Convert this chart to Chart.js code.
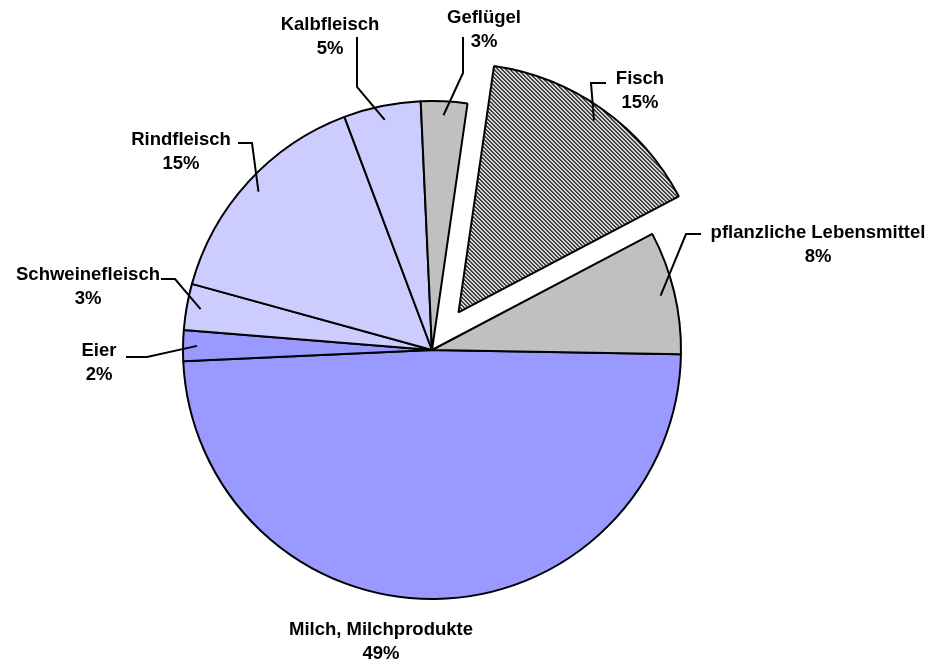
<!DOCTYPE html>
<html>
<head>
<meta charset="utf-8">
<script src="https://cdn.jsdelivr.net/npm/chart.js@4/dist/chart.umd.min.js"></script>
<style>
  html, body { margin: 0; padding: 0; background: #fff; }
  #wrap { width: 931px; height: 662px; }
</style>
</head>
<body>
<div id="wrap"><canvas id="pie" width="931" height="662"></canvas></div>
<script>
// Anteile in Prozent, im Uhrzeigersinn ab 3 Uhr
var categories = ['Milch, Milchprodukte', 'Eier', 'Schweinefleisch', 'Rindfleisch',
                  'Kalbfleisch', 'Geflügel', 'Fisch', 'pflanzliche Lebensmittel'];
var shares = [49, 2, 3, 15, 5, 3, 15, 8];
var explodeIndex = 6;

// Beschriftung: Mittelpunkt der ersten Zeile, Knick und Ende der Führungslinie
var labelLayout = [
  { x: 381, y: 630, leader: null },
  { x: 99,  y: 351, leader: [[147, 357], [126, 357]] },
  { x: 88,  y: 275, leader: [[175, 279], [161, 279]] },
  { x: 181, y: 140, leader: [[252, 143], [238, 143]] },
  { x: 330, y: 25,  leader: [[357, 87], [357, 37]] },
  { x: 484, y: 18,  leader: [[463, 73], [463, 37]] },
  { x: 640, y: 79,  leader: [[591, 83], [606, 83]] },
  { x: 818, y: 233, leader: [[686, 234], [701, 234]] }
];

function hatch() {
  var c = document.createElement('canvas');
  c.width = 4; c.height = 4;
  var g = c.getContext('2d');
  g.fillStyle = '#d4d4d4';
  g.fillRect(0, 0, 4, 4);
  g.fillStyle = '#444';
  for (var i = 0; i < 4; i++) {
    g.fillRect(i, i, 1, 1);
    g.fillRect((i + 1) % 4, i, 1, 1);
  }
  return g.createPattern(c, 'repeat');
}

var ctx = document.getElementById('pie').getContext('2d');
var colors = ['#9999ff', '#9999ff', '#ccccff', '#ccccff', '#ccccff', '#c0c0c0', hatch(), '#c0c0c0'];

var explodePlugin = {
  id: 'explode',
  afterDatasetUpdate: function(chart, args) {
    var el = args.meta.data[explodeIndex];
    if (!el) return;
    var mid = (el.startAngle + el.endAngle) / 2;
    el.x += Math.cos(mid) * 46;
    el.y += Math.sin(mid) * 46;
  }
};

var labelPlugin = {
  id: 'pieLabels',
  afterDraw: function(chart) {
    var c = chart.ctx;
    var arcs = chart.getDatasetMeta(0).data;
    c.save();
    c.strokeStyle = '#000';
    c.lineWidth = 2;
    arcs.forEach(function(el, i) {
      var lay = labelLayout[i];
      if (!lay.leader) return;
      var mid = (el.startAngle + el.endAngle) / 2;
      var r = el.outerRadius - 14;
      c.beginPath();
      c.moveTo(el.x + Math.cos(mid) * r, el.y + Math.sin(mid) * r);
      lay.leader.forEach(function(p) { c.lineTo(p[0], p[1]); });
      c.stroke();
    });
    c.fillStyle = '#000';
    c.font = 'bold 18.5px "Liberation Sans", Arial, sans-serif';
    c.textAlign = 'center';
    c.textBaseline = 'middle';
    categories.forEach(function(name, i) {
      var lay = labelLayout[i];
      c.fillText(name, lay.x, lay.y);
      c.fillText(shares[i] + '%', lay.x, lay.y + 23.5);
    });
    c.restore();
  }
};

new Chart(ctx, {
  type: 'pie',
  data: {
    labels: categories,
    datasets: [{
      data: shares,
      backgroundColor: colors,
      borderColor: '#000',
      borderWidth: 2
    }]
  },
  options: {
    responsive: false,
    animation: false,
    rotation: 91,
    radius: 249,
    layout: { padding: { left: 0, right: 67, top: 38, bottom: 0 } },
    plugins: {
      legend: { display: false },
      tooltip: { enabled: false }
    }
  },
  plugins: [explodePlugin, labelPlugin]
});
</script>
</body>
</html>
